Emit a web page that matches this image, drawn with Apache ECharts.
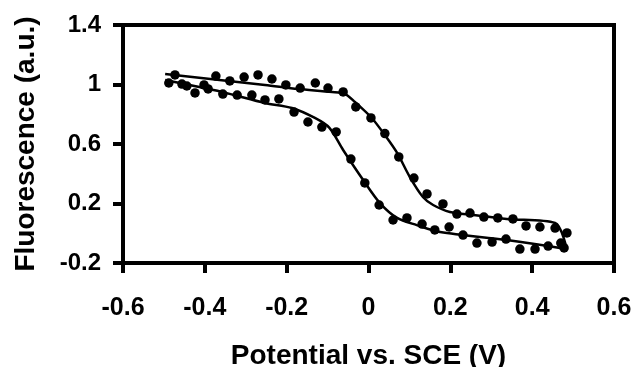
<!DOCTYPE html>
<html>
<head>
<meta charset="utf-8">
<script src="https://cdn.jsdelivr.net/npm/echarts@6/dist/echarts.min.js"></script>
<style>
  html, body { margin: 0; padding: 0; background: #fff; }
  #chart { width: 634px; height: 367px; }
</style>
</head>
<body>
<div id="chart"></div>
<script>
// Axis ticks
const xTicks = [-0.6, -0.4, -0.2, 0, 0.2, 0.4, 0.6];
const yTicks = [-0.2, 0.2, 0.6, 1.0, 1.4];

// Measured fluorescence, scan towards positive potential (upper branch)
const fwdPotential = [-0.473, -0.373, -0.339, -0.304, -0.270, -0.236, -0.202, -0.167, -0.130, -0.099, -0.062, -0.031, 0.006, 0.040, 0.074, 0.111, 0.143, 0.182, 0.216, 0.248, 0.282, 0.316, 0.353, 0.385, 0.419, 0.456, 0.485];
const fwdSignal    = [1.064, 1.057, 1.024, 1.050, 1.064, 1.037, 0.997, 0.976, 1.010, 0.976, 0.950, 0.849, 0.775, 0.670, 0.513, 0.371, 0.264, 0.197, 0.129, 0.136, 0.109, 0.103, 0.096, 0.049, 0.042, 0.035, 0.002];

// Measured fluorescence, scan back towards negative potential (lower branch)
const revPotential = [-0.488, -0.456, -0.444, -0.424, -0.402, -0.392, -0.356, -0.321, -0.285, -0.253, -0.219, -0.182, -0.148, -0.114, -0.079, -0.043, -0.009, 0.026, 0.060, 0.094, 0.131, 0.162, 0.197, 0.231, 0.265, 0.302, 0.336, 0.370, 0.407, 0.439, 0.470, 0.478];
const revSignal    = [1.010, 1.003, 0.990, 0.943, 0.997, 0.970, 0.936, 0.929, 0.929, 0.896, 0.903, 0.815, 0.748, 0.714, 0.681, 0.499, 0.338, 0.190, 0.089, 0.103, 0.062, 0.022, 0.042, -0.012, -0.066, -0.059, -0.039, -0.106, -0.106, -0.086, -0.066, -0.099];

// Fitted curve, upper branch (ends at the switching corner)
const fitUpX = [-0.497, -0.253, -0.172, -0.089, -0.057, -0.033, 0.008, 0.040, 0.070, 0.101, 0.133, 0.158, 0.199, 0.255, 0.338, 0.456, 0.485];
const fitUpY = [1.071, 0.997, 0.970, 0.950, 0.936, 0.882, 0.775, 0.660, 0.540, 0.378, 0.244, 0.190, 0.143, 0.123, 0.096, 0.069, -0.115];

// Fitted curve, lower branch (starts at the switching corner)
const fitDownX = [0.485, 0.468, 0.338, 0.175, 0.118, 0.070, 0.028, -0.013, -0.062, -0.096, -0.131, -0.187, -0.253, -0.358, -0.497];
const fitDownY = [-0.115, -0.099, -0.045, 0.008, 0.055, 0.103, 0.203, 0.358, 0.560, 0.710, 0.775, 0.842, 0.876, 0.950, 1.030];

const zip = (a, b) => a.map((v, i) => [v, b[i]]);
const fmt = v => String(parseFloat(Number(v).toFixed(1)));
const FONT = '"Liberation Sans", Arial, sans-serif';

const chart = echarts.init(document.getElementById('chart'), null, { renderer: 'canvas' });

chart.setOption({
  animation: false,
  backgroundColor: '#fff',
  grid: {
    left: 123, right: 20, top: 25, bottom: 104,
    outerBoundsMode: 'none', containLabel: false,
    show: true, borderColor: '#000', borderWidth: 4, backgroundColor: 'transparent'
  },
  xAxis: {
    type: 'value',
    min: xTicks[0], max: xTicks[xTicks.length - 1], interval: 0.2,
    name: 'Potential vs. SCE (V)',
    nameLocation: 'middle', nameGap: 79,
    nameTextStyle: { fontFamily: FONT, fontWeight: 'bold', fontSize: 28, color: '#000' },
    axisLine: { show: true, onZero: false, lineStyle: { color: '#000', width: 4 } },
    axisTick: { show: true, inside: false, length: 10, lineStyle: { color: '#000', width: 4 }, customValues: xTicks },
    axisLabel: { customValues: xTicks, formatter: fmt, margin: 33, fontFamily: FONT, fontWeight: 'bold', fontSize: 25, color: '#000' },
    splitLine: { show: false }
  },
  yAxis: {
    type: 'value',
    min: yTicks[0], max: yTicks[yTicks.length - 1],
    name: 'Fluorescence (a.u.)',
    nameLocation: 'middle', nameGap: 83,
    nameTextStyle: { fontFamily: FONT, fontWeight: 'bold', fontSize: 28, color: '#000' },
    axisLine: { show: true, onZero: false, lineStyle: { color: '#000', width: 4 } },
    axisTick: { show: true, inside: false, length: 10, lineStyle: { color: '#000', width: 4 }, customValues: yTicks },
    axisLabel: { customValues: yTicks, formatter: fmt, margin: 22, fontFamily: FONT, fontWeight: 'bold', fontSize: 24, color: '#000' },
    splitLine: { show: false }
  },
  series: [
    {
      type: 'line', data: zip(fitUpX, fitUpY), smooth: 0.3,
      showSymbol: false, lineStyle: { color: '#000', width: 2.5 }, z: 2
    },
    {
      type: 'line', data: zip(fitDownX, fitDownY), smooth: 0.3,
      showSymbol: false, lineStyle: { color: '#000', width: 2.5 }, z: 2
    },
    {
      type: 'scatter', data: zip(fwdPotential, fwdSignal),
      symbol: 'circle', symbolSize: 9.5, itemStyle: { color: '#000', opacity: 1 }, z: 3
    },
    {
      type: 'scatter', data: zip(revPotential, revSignal),
      symbol: 'circle', symbolSize: 9.5, itemStyle: { color: '#000', opacity: 1 }, z: 3
    }
  ]
});
</script>
</body>
</html>
